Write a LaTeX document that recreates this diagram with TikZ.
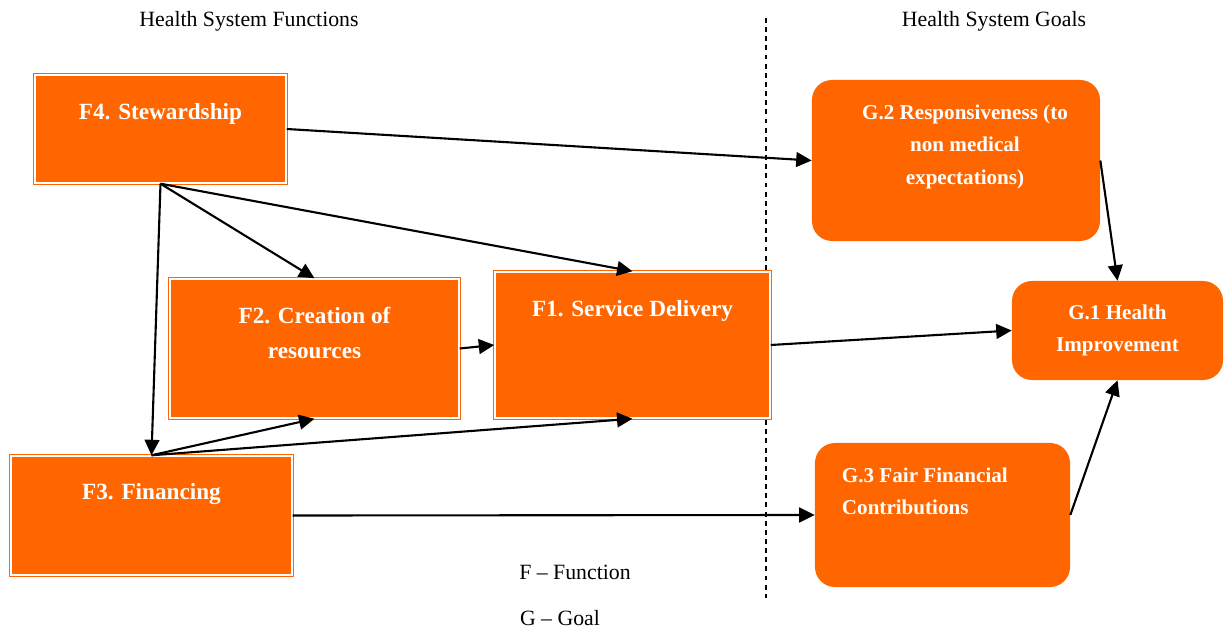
\documentclass[tikz,border=0pt]{standalone}
\usepackage{fontspec}
\setmainfont{Liberation Serif}
\usepackage{xcolor}
\usetikzlibrary{arrows.meta, positioning}
\definecolor{hsorange}{HTML}{FF6600}

\begin{document}
\begin{tikzpicture}[x=0.025cm, y=-0.025cm,
    % Styles
    funcbox/.style={
        rectangle,
        fill=hsorange,
        draw=hsorange,
        double=white,
        double distance=1.2pt,
        line width=1pt,
        inner sep=0pt
    },
    goalbox/.style={
        rectangle,
        rounded corners=0.5cm,
        fill=hsorange,
        inner sep=0pt
    },
    boxtext/.style={
        text=white,
        font=\fontsize{15}{23}\selectfont\bfseries,
        align=center,
        inner sep=0pt
    },
    functext/.style={
        boxtext,
        font=\fontsize{16.5}{24.5}\selectfont\bfseries
    },
    heading/.style={font=\fontsize{15.5}{18}\selectfont},
    link/.style={-{Triangle[length=11pt, width=10.5pt]}, line width=1.5pt}
]
\useasboundingbox (0,0) rectangle (1224,630);

% Headings
\node[heading] (funchead) at (249,21) {Health System Functions};
\node[heading] (goalhead) at (994,21) {Health System Goals};

% Divider
\coordinate (divtop) at (766,18);
\coordinate (divbot) at (766,598);
\draw[line width=0.8pt, dash pattern=on 3.5pt off 3pt] (divtop) -- (divbot);

% Function boxes
\node[funcbox, minimum width=6.275cm, minimum height=2.7cm,
    label={[functext, anchor=north, yshift=-0.72cm]north:F4. Stewardship}] (f4) at (160.5,129) {};

\node[funcbox, minimum width=7.225cm, minimum height=3.475cm,
    label={[functext, anchor=north, yshift=-0.72cm]north:F2. Creation of\\resources}] (f2) at (314.5,348.5) {};

\node[funcbox, minimum width=6.875cm, minimum height=3.65cm,
    label={[functext, anchor=north, yshift=-0.72cm]north:F1. Service Delivery}] (f1) at (632.5,345) {};

\node[funcbox, minimum width=7.025cm, minimum height=2.975cm,
    label={[functext, anchor=north, yshift=-0.7cm]north:F3. Financing}] (f3) at (151.5,515.5) {};

% Goal boxes
\node[goalbox, minimum width=7.2cm, minimum height=4.025cm,
    label={[boxtext, anchor=north, xshift=0.225cm, yshift=-0.625cm]north:G.2 Responsiveness (to\\non medical\\expectations)}] (g2) at (956,160.5) {};

\node[goalbox, boxtext, minimum width=5.275cm, minimum height=2.475cm] (g1) at (1117.5,330.5) {G.1 Health\\Improvement};

\node[goalbox, minimum width=6.375cm, minimum height=3.6cm,
    label={[boxtext, align=left, anchor=north west, xshift=0.675cm, yshift=-0.625cm]north west:G.3 Fair Financial\\Contributions}] (g3) at (942.5,515) {};

% Links
\draw[link] (f4.east) -- (g2.west);
\draw[link] (f4.south) -- (f2.north);
\draw[link] (f4.south) -- (f1.north);
\draw[link] (f4.south) -- (f3.north);
\draw[link] (f3.north) -- (f2.south);
\draw[link] (f3.north) -- (f1.south);
\draw[link] (f2.east) -- (f1.west);
\draw[link] (f1.east) -- (g1.west);
\draw[link] (f3.east) -- (g3.west);
\draw[link] (g2.east) -- (g1.north);
\draw[link] (g3.east) -- (g1.south);

% Legend
\node[heading] (legf) at (575,572) {F – Function};
\node[heading] (legg) at (560,618) {G – Goal};

\end{tikzpicture}
\end{document}
